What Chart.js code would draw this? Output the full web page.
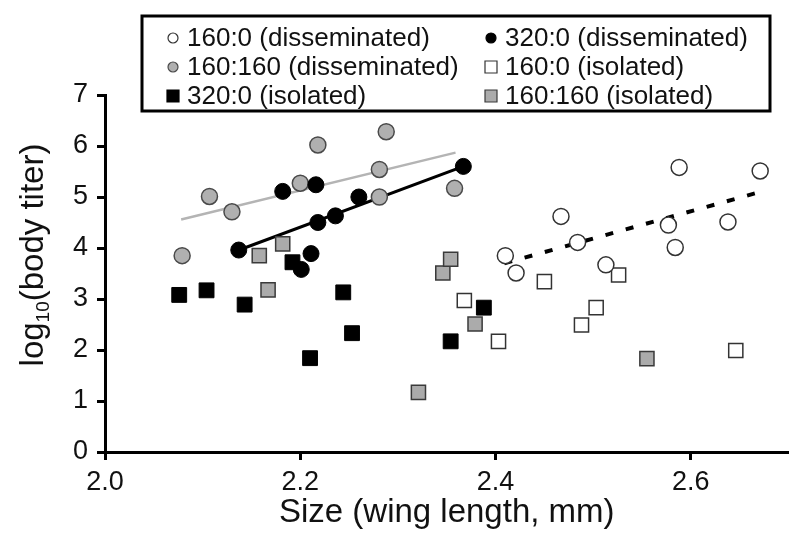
<!DOCTYPE html>
<html>
<head>
<meta charset="utf-8">
<script src="https://cdn.jsdelivr.net/npm/chart.js@4"></script>
<style>
  html, body { margin: 0; padding: 0; background: #fff; }
  canvas { display: block; }
</style>
</head>
<body>
<canvas id="chart" width="800" height="550"></canvas>
<script>
// tick labels
const xTicks = [2.0, 2.2, 2.4, 2.6];
const yTicks = [0, 1, 2, 3, 4, 5, 6, 7];

// series labels (legend order: left column, right column)
const seriesNames = [
  '160:0 (disseminated)', '320:0 (disseminated)',
  '160:160 (disseminated)', '160:0 (isolated)',
  '320:0 (isolated)', '160:160 (isolated)'
];

// 160:0 disseminated (open circles)
const dis160X = [2.410, 2.421, 2.467, 2.484, 2.513, 2.577, 2.584, 2.588, 2.638, 2.671];
const dis160Y = [3.85, 3.51, 4.62, 4.11, 3.67, 4.45, 4.01, 5.58, 4.51, 5.51];
// 320:0 disseminated (black circles)
const dis320X = [2.137, 2.182, 2.201, 2.211, 2.216, 2.218, 2.236, 2.260, 2.367];
const dis320Y = [3.96, 5.11, 3.58, 3.89, 5.24, 4.50, 4.63, 5.00, 5.60];
// 160:160 disseminated (grey circles)
const dis160160X = [2.079, 2.107, 2.130, 2.200, 2.218, 2.281, 2.281, 2.288, 2.358];
const dis160160Y = [3.85, 5.01, 4.71, 5.27, 6.02, 5.00, 5.54, 6.28, 5.17];
// 160:0 isolated (open squares)
const iso160X = [2.368, 2.403, 2.450, 2.488, 2.503, 2.526, 2.646];
const iso160Y = [2.97, 2.17, 3.34, 2.49, 2.83, 3.47, 1.99];
// 320:0 isolated (black squares)
const iso320X = [2.076, 2.104, 2.143, 2.192, 2.210, 2.244, 2.253, 2.354, 2.388];
const iso320Y = [3.08, 3.17, 2.89, 3.72, 1.84, 3.13, 2.33, 2.17, 2.83];
// 160:160 isolated (grey squares)
const iso160160X = [2.158, 2.167, 2.182, 2.321, 2.346, 2.354, 2.379, 2.555];
const iso160160Y = [3.85, 3.18, 4.08, 1.17, 3.51, 3.78, 2.51, 1.83];

// fitted lines (end points)
const fitGreyX = [2.078, 2.359];
const fitGreyY = [4.56, 5.87];
const fitBlackX = [2.140, 2.367];
const fitBlackY = [3.98, 5.60];
const fitDashX = [2.409, 2.673];
const fitDashY = [3.70, 5.11];

const FONT = '"Liberation Sans", Arial, Helvetica, sans-serif';
const pts = (xs, ys) => xs.map((x, i) => ({ x: x, y: ys[i] }));

const marks = [
  { style: 'circle', r: 8, fill: '#ffffff', edge: '#333333', bw: 1.5 },
  { style: 'circle', r: 8, fill: '#000000', edge: '#000000', bw: 1 },
  { style: 'circle', r: 8, fill: '#b0b0b0', edge: '#4a4a4a', bw: 1.5 },
  { style: 'rect', r: 10, fill: '#ffffff', edge: '#333333', bw: 1.5 },
  { style: 'rect', r: 10.5, fill: '#000000', edge: '#000000', bw: 1 },
  { style: 'rect', r: 10, fill: '#ababab', edge: '#3a3a3a', bw: 1.5 }
];
const seriesData = [
  pts(dis160X, dis160Y), pts(dis320X, dis320Y), pts(dis160160X, dis160160Y),
  pts(iso160X, iso160Y), pts(iso320X, iso320Y), pts(iso160160X, iso160160Y)
];

const pointSets = seriesNames.map((name, i) => ({
  label: name,
  data: seriesData[i],
  pointStyle: marks[i].style,
  pointRadius: marks[i].r,
  pointHoverRadius: marks[i].r,
  backgroundColor: marks[i].fill,
  borderColor: marks[i].edge,
  borderWidth: marks[i].bw,
  showLine: false,
  order: i
}));

const lineSet = (xs, ys, color, width, dash) => ({
  label: '',
  data: pts(xs, ys),
  showLine: true,
  pointRadius: 0,
  borderColor: color,
  borderWidth: width,
  borderDash: dash,
  fill: false,
  order: 10
});

// legend box drawn over the top of the plot
const legendBox = {
  id: 'legendBox',
  afterDraw(chart) {
    const ctx = chart.ctx;
    ctx.save();
    ctx.fillStyle = '#fff';
    ctx.fillRect(142, 16, 628, 95);
    ctx.lineWidth = 3;
    ctx.strokeStyle = '#000';
    ctx.strokeRect(142, 16, 628, 95);
    ctx.font = '26px ' + FONT;
    ctx.textBaseline = 'middle';
    ctx.textAlign = 'left';
    seriesNames.forEach((name, i) => {
      const col = i % 2, row = Math.floor(i / 2);
      const mx = col ? 491 : 173;
      const my = 38 + row * 29;
      const m = marks[i];
      ctx.fillStyle = m.fill;
      ctx.strokeStyle = m.edge;
      ctx.lineWidth = 1.2;
      ctx.beginPath();
      if (m.style === 'circle') ctx.arc(mx, my, 5, 0, Math.PI * 2);
      else ctx.rect(mx - 6, my - 6, 12, 12);
      ctx.fill();
      ctx.stroke();
      ctx.fillStyle = '#111';
      ctx.fillText(name, mx + 14, my + 1);
    });
    ctx.restore();
  }
};

// y axis title with a real subscript
const yTitle = {
  id: 'yTitle',
  afterDraw(chart) {
    const ctx = chart.ctx;
    ctx.save();
    ctx.translate(32, 255);
    ctx.rotate(-Math.PI / 2);
    ctx.fillStyle = '#111';
    ctx.textBaseline = 'alphabetic';
    ctx.textAlign = 'left';
    const big = '33px ' + FONT, small = '19px ' + FONT;
    ctx.font = big;
    const w1 = ctx.measureText('log').width;
    const w3 = ctx.measureText('(body titer)').width;
    ctx.font = small;
    const w2 = ctx.measureText('10').width;
    let x = -(w1 + w2 + w3) / 2;
    ctx.font = big;
    ctx.fillText('log', x, 11);
    x += w1;
    ctx.font = small;
    ctx.fillText('10', x, 17);
    x += w2;
    ctx.font = big;
    ctx.fillText('(body titer)', x, 11);
    ctx.restore();
  }
};

Chart.defaults.font.family = FONT;
Chart.defaults.color = '#111';

new Chart(document.getElementById('chart'), {
  type: 'scatter',
  data: {
    datasets: pointSets.concat([
      lineSet(fitGreyX, fitGreyY, '#b4b4b4', 2.5, []),
      lineSet(fitBlackX, fitBlackY, '#000000', 3, []),
      lineSet(fitDashX, fitDashY, '#000000', 4, [8, 13])
    ])
  },
  options: {
    responsive: false,
    animation: false,
    devicePixelRatio: 1,
    layout: { padding: { top: 95, right: 10, left: 0, bottom: 0 } },
    plugins: {
      legend: { display: false },
      tooltip: { enabled: false }
    },
    scales: {
      x: {
        type: 'linear',
        min: 2.0,
        max: 2.7,
        afterBuildTicks: (s) => { s.ticks = xTicks.map(v => ({ value: v })); },
        afterFit: (s) => { s.height = 98; },
        ticks: {
          font: { size: 27 },
          color: '#111',
          padding: 6,
          callback: (v) => v.toFixed(1)
        },
        grid: {
          display: true,
          drawOnChartArea: false,
          drawTicks: true,
          tickLength: 8,
          tickWidth: 3,
          tickColor: '#000'
        },
        border: { display: true, color: '#000', width: 3 },
        title: {
          display: true,
          text: 'Size (wing length, mm)',
          font: { size: 33 },
          color: '#111',
          padding: { top: 0, bottom: 17 }
        }
      },
      y: {
        type: 'linear',
        min: 0,
        max: 7,
        afterBuildTicks: (s) => { s.ticks = yTicks.map(v => ({ value: v })); },
        afterFit: (s) => { s.width = 105; },
        ticks: {
          font: { size: 27 },
          color: '#111',
          padding: 9
        },
        grid: {
          display: true,
          drawOnChartArea: false,
          drawTicks: true,
          tickLength: 8,
          tickWidth: 3,
          tickColor: '#000'
        },
        border: { display: true, color: '#000', width: 3 }
      }
    }
  },
  plugins: [legendBox, yTitle]
});
</script>
</body>
</html>
